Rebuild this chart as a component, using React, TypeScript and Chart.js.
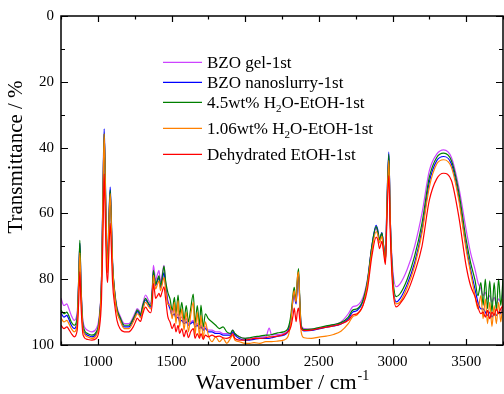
import React, { useEffect, useRef } from "react";
import { Chart, registerables } from "chart.js";

Chart.register(...registerables);

const wavenumbers = [
  750, 770, 790, 800, 820, 840, 860, 870, 878, 886,
  900, 930, 960, 990, 1010, 1025, 1035, 1043, 1050, 1058,
  1066, 1074, 1084, 1092, 1100, 1115, 1130, 1150, 1180, 1210,
  1240, 1260, 1267, 1280, 1290, 1305, 1324, 1340, 1358, 1370,
  1377, 1385, 1392, 1405, 1415, 1425, 1435, 1449, 1460, 1475,
  1490, 1505, 1520, 1530, 1545, 1555, 1570, 1585, 1600, 1615,
  1630, 1648, 1660, 1675, 1690, 1700, 1715, 1730, 1750, 1775,
  1800, 1825, 1850, 1875, 1900, 1915, 1930, 1960, 2000, 2030,
  2060, 2100, 2140, 2163, 2180, 2220, 2260, 2290, 2310, 2325,
  2333, 2340, 2346, 2354, 2362, 2370, 2380, 2400, 2450, 2500,
  2550, 2600, 2650, 2700, 2730, 2760, 2800, 2830, 2860, 2889,
  2900, 2912, 2928, 2940, 2952, 2962, 2975, 2985, 3000, 3025,
  3050, 3100, 3150, 3200, 3250, 3300, 3347, 3400, 3450, 3500,
  3530, 3560, 3580, 3600, 3615, 3630, 3645, 3660, 3675, 3690,
  3705, 3720, 3735, 3750,
];

const bzoGel = [
  85.8, 88, 87.5, 88.5, 91, 92.5, 90, 80, 69.3, 82,
  93, 95.5, 96, 95, 91, 80, 55, 36, 50, 70,
  78, 66, 54, 64, 76, 84, 88.5, 91, 93.5, 93.5,
  91.5, 89.5, 88.9, 89.5, 90.3, 87.5, 84.8, 86, 87.4, 82,
  75.8, 78, 80.3, 78.5, 77.3, 80.8, 79, 75.8, 81, 86.4,
  88, 90, 89, 91.5, 90.5, 92, 91.5, 93, 92, 93.5,
  93, 92.5, 94, 93.5, 94.5, 94, 95, 94.5, 95.5, 95.5,
  96, 96, 96.5, 96.5, 96.5, 95.5, 96.5, 97.5, 98, 98,
  97.8, 97.5, 97.5, 94.9, 97, 96.8, 96.5, 95.5, 92, 86,
  84, 86, 87, 82, 79, 86, 94, 95, 95.2, 94.8,
  94.3, 93.8, 93, 90.5, 88.4, 88, 85.5, 80, 70, 64.5,
  66, 68.2, 66.1, 70, 74.7, 60, 42.5, 62, 76, 82.3,
  81.5, 77, 70, 60, 47, 42, 40.7, 43, 52, 65,
  72, 77, 81, 83, 85, 84, 86, 85, 87, 85.5,
  87.5, 86, 87, 84,
];

const bzoNanoslurry = [
  90.3, 91.5, 91, 91.8, 94, 95, 92.5, 81, 69, 83,
  95, 97, 97.5, 96.5, 92.5, 80, 52, 34.3, 47, 67,
  77, 63, 52, 62, 75, 84.5, 89.5, 92, 94.5, 94.5,
  92.5, 90.5, 89.8, 90.5, 91.3, 88.5, 86.3, 87.3, 88.5, 84,
  77.8, 80, 82, 80.5, 79.5, 82.5, 81, 78, 82, 87,
  89, 91, 90.5, 92, 91.5, 93, 92.5, 93.5, 93, 94,
  93.5, 93, 94.5, 94, 95, 94.5, 95.5, 95, 96, 96,
  96.5, 96.5, 97, 97, 97, 96, 97, 98, 98.5, 98.5,
  98.3, 98, 98, 98, 97.8, 97.3, 97, 96, 92.5, 86,
  84, 86.5, 87.5, 81, 78, 86, 94.5, 95.7, 95.6, 95.1,
  94.6, 94.2, 93.6, 92, 90, 89.5, 86.8, 81, 70, 63.6,
  65, 68, 65.8, 70, 74.5, 57, 41.4, 62, 79, 86.9,
  86, 81.5, 75, 65, 50.5, 44, 42.7, 45, 55, 70,
  77, 83, 87, 89, 89, 90, 91, 90, 91.5, 90.5,
  91, 90, 90.5, 88,
];

const h2oEtoh45 = [
  89.4, 90.5, 90, 90.8, 93, 94, 91.5, 80, 68.2, 82,
  94, 96.5, 97, 96, 92, 80, 54, 35.8, 48, 68,
  77, 64, 53, 63, 75, 84, 89, 91.5, 94, 94,
  92, 90, 89.3, 90, 90.8, 88, 85.8, 87, 88, 83,
  77.3, 79.5, 81.5, 80, 79, 82, 80, 76, 80.5, 84,
  86, 89.5, 85.5, 90.5, 84.8, 91, 87, 92.5, 88, 93,
  89, 84.5, 93.5, 88, 94, 87.9, 94.5, 90.5, 92, 93,
  94, 95, 94.5, 96, 96.5, 95.5, 96.5, 97.5, 98, 97.8,
  97.5, 97.3, 97, 97, 96.8, 96.3, 96, 95, 91, 84.5,
  82.5, 85, 86.4, 80, 76.8, 85, 94, 95.3, 95.2, 94.7,
  94.2, 93.8, 93.2, 91.5, 89.4, 89, 86.3, 80.5, 70, 64,
  65.5, 68, 66, 70, 74.5, 58, 42, 62, 78, 85.3,
  84.5, 80, 73, 63, 49, 43, 41.7, 44, 53.5, 68,
  75, 80.3, 85, 81, 88, 80, 89, 80.5, 90, 81,
  89.5, 80, 88, 80,
];

const h2oEtoh106 = [
  91.8, 93, 92.5, 93.2, 95, 96, 93.5, 82, 72, 84,
  95.5, 97.5, 98, 97, 93, 81, 55, 35.8, 49, 69,
  78, 65, 54, 64, 76, 85, 90, 92.5, 95, 95,
  93, 91, 90.5, 91, 91.8, 89.5, 87, 88, 89, 85,
  78.8, 81, 83, 81.5, 80.5, 83.5, 82, 79.5, 83, 87.5,
  88, 92, 87, 93.5, 86.5, 94.5, 89, 95.5, 90, 96,
  91, 87, 97, 90, 97.5, 91, 98, 93, 97, 99,
  97.5, 99, 98, 99.5, 98, 97, 98.5, 99, 99.5, 99.5,
  99.3, 99.5, 99, 99, 99, 98.8, 98.5, 97.5, 93, 85.5,
  83.5, 86, 87, 80, 77.8, 86, 96, 97.8, 98, 97.6,
  97.3, 96.8, 95.8, 93.5, 91.4, 90.8, 87.8, 81.5, 71.5, 65.5,
  66.5, 69, 67, 71, 75, 59, 43.9, 63, 80, 87.5,
  87, 82.5, 76, 66, 52, 45, 43.7, 46, 56, 71,
  78, 85, 89, 85, 92, 86, 93.5, 87, 94.4, 88,
  93.5, 87, 93, 86,
];

const dehydratedEtoh = [
  94, 95, 94.5, 95, 96.5, 97.5, 95.5, 87, 77.8, 88,
  97, 98.3, 98.5, 98, 95, 86, 66, 48, 60, 76,
  81, 73, 63, 71, 81, 88, 92.5, 95, 96, 96,
  94.5, 92.5, 91.8, 92.5, 92.8, 90.5, 88.5, 89.5, 90.2, 87,
  81.3, 83.5, 85.8, 85, 84.3, 85.4, 84, 82.3, 86, 91.4,
  93, 95, 93.5, 96, 94, 96.5, 95, 97.5, 95.5, 97.8,
  96, 95, 98, 96.5, 98, 96.5, 98.3, 97, 97.5, 97,
  97.5, 97.3, 97.8, 98, 97.5, 96.5, 98, 98.5, 98.5, 98.3,
  98, 98, 97.8, 97.5, 97.5, 97.3, 96.8, 96, 94.5, 91,
  88.8, 91, 92.9, 90, 88.8, 92, 95, 95.6, 95.5, 95,
  94.6, 94.2, 93.6, 92.5, 90.9, 90.5, 88, 83, 73, 67.2,
  68, 70.7, 68.5, 72, 75.5, 62, 48.5, 66, 81.5, 88.4,
  87.5, 84, 78, 70, 56, 49.5, 47.8, 50, 61, 76,
  82, 85.3, 88.5, 90.5, 90, 91.5, 89.5, 92, 90, 91,
  89, 90.5, 89, 88,
];

const xTickValues = [1000, 1500, 2000, 2500, 3000, 3500];
const xMinorValues = [750, 1250, 1750, 2250, 2750, 3250, 3750];
const yTickValues = [0, 20, 40, 60, 80, 100];
const yMinorValues = [10, 30, 50, 70, 90];

// legend: [main text, subscript, rest]
const legendParts: [string, string, string][] = [
  ["BZO gel-1st", "", ""],
  ["BZO nanoslurry-1st", "", ""],
  ["4.5wt% H", "2", "O-EtOH-1st"],
  ["1.06wt% H", "2", "O-EtOH-1st"],
  ["Dehydrated EtOH-1st", "", ""],
];
const seriesColors = ["#cc44ff", "#0000ff", "#007f00", "#ff8000", "#ff0000"];

const FONT = "'Liberation Serif', 'Times New Roman', serif";

const decorPlugin = {
  id: "decor",
  afterDraw(chart: any) {
    const ctx = chart.ctx as CanvasRenderingContext2D;
    const a = chart.chartArea;
    const xs = chart.scales.x;
    const ys = chart.scales.y;
    ctx.save();
    ctx.strokeStyle = "#000";
    ctx.lineWidth = 1.5;
    ctx.strokeRect(a.left, a.top, a.right - a.left, a.bottom - a.top);
    ctx.lineWidth = 1.2;
    ctx.beginPath();
    const xt = (v: number, len: number) => {
      const px = Math.round(xs.getPixelForValue(v)) + 0.5;
      ctx.moveTo(px, a.bottom);
      ctx.lineTo(px, a.bottom - len);
      ctx.moveTo(px, a.top);
      ctx.lineTo(px, a.top + len);
    };
    const yt = (v: number, len: number) => {
      const py = Math.round(ys.getPixelForValue(v)) + 0.5;
      ctx.moveTo(a.left, py);
      ctx.lineTo(a.left + len, py);
      ctx.moveTo(a.right, py);
      ctx.lineTo(a.right - len, py);
    };
    xTickValues.forEach((v) => xt(v, 6));
    xMinorValues.forEach((v) => xt(v, 3.5));
    yTickValues.forEach((v) => yt(v, 7));
    yMinorValues.forEach((v) => yt(v, 4));
    ctx.stroke();

    ctx.fillStyle = "#000";
    // x title
    const main = "Wavenumber / cm";
    ctx.font = `22px ${FONT}`;
    const wMain = ctx.measureText(main).width;
    ctx.font = `14px ${FONT}`;
    const wSup = ctx.measureText("-1").width;
    const cx = (a.left + a.right) / 2;
    const x0 = cx - (wMain + wSup) / 2;
    ctx.textBaseline = "alphabetic";
    ctx.textAlign = "left";
    ctx.font = `22px ${FONT}`;
    ctx.fillText(main, x0, 389);
    ctx.font = `14px ${FONT}`;
    ctx.fillText("-1", x0 + wMain + 1, 380);

    // y title
    ctx.save();
    ctx.translate(22, 157);
    ctx.rotate(-Math.PI / 2);
    ctx.font = `21px ${FONT}`;
    ctx.textAlign = "center";
    ctx.fillText("Transmittance / %", 0, 0);
    ctx.restore();

    // legend
    const lineY = [62.3, 82.3, 102.3, 128.3, 154.3];
    legendParts.forEach((p, i) => {
      const y = lineY[i];
      ctx.strokeStyle = seriesColors[i];
      ctx.lineWidth = 1.3;
      ctx.beginPath();
      ctx.moveTo(163, y);
      ctx.lineTo(202, y);
      ctx.stroke();
      ctx.fillStyle = "#000";
      ctx.textAlign = "left";
      ctx.font = `17px ${FONT}`;
      let x = 207;
      ctx.fillText(p[0], x, y + 6);
      x += ctx.measureText(p[0]).width;
      if (p[1]) {
        ctx.font = `11px ${FONT}`;
        ctx.fillText(p[1], x, y + 10);
        x += ctx.measureText(p[1]).width;
        ctx.font = `17px ${FONT}`;
        ctx.fillText(p[2], x, y + 6);
      }
    });
    ctx.restore();
  },
};

export default function App() {
  const ref = useRef<HTMLCanvasElement>(null);
  useEffect(() => {
    document.body.style.margin = "0";
    const series = [bzoGel, bzoNanoslurry, h2oEtoh45, h2oEtoh106, dehydratedEtoh];
    const labels = legendParts.map((p) => p.join(""));
    const chart = new Chart(ref.current as HTMLCanvasElement, {
      type: "line",
      data: {
        datasets: series.map((s, i) => ({
          label: labels[i],
          data: wavenumbers.map((w, j) => ({ x: w, y: s[j] })),
          borderColor: seriesColors[i],
          borderWidth: 1.2,
          pointRadius: 0,
          cubicInterpolationMode: "monotone",
          fill: false,
          order: 4 - i,
        })),
      },
      options: {
        responsive: false,
        animation: false,
        devicePixelRatio: 1,
        layout: { padding: { top: 15, right: 1, left: 0, bottom: 0 } },
        plugins: { legend: { display: false }, tooltip: { enabled: false } },
        scales: {
          x: {
            type: "linear",
            min: 750,
            max: 3750,
            afterFit: (s: any) => {
              s.height = 49;
            },
            afterBuildTicks: (s: any) => {
              s.ticks = xTickValues.map((v) => ({ value: v }));
            },
            grid: { display: false, drawTicks: false },
            border: { display: false },
            ticks: {
              color: "#000",
              font: { family: FONT, size: 15 },
              padding: 8,
              maxRotation: 0,
              autoSkip: false,
              callback: (v: any) => String(v),
            },
          },
          y: {
            type: "linear",
            min: 0,
            max: 100,
            reverse: true,
            afterFit: (s: any) => {
              s.width = 61;
            },
            afterBuildTicks: (s: any) => {
              s.ticks = yTickValues.map((v) => ({ value: v }));
            },
            grid: { display: false, drawTicks: false },
            border: { display: false },
            ticks: {
              color: "#000",
              font: { family: FONT, size: 15 },
              padding: 7,
              callback: (v: any) => String(v),
            },
          },
        },
      } as any,
      plugins: [decorPlugin],
    });
    return () => chart.destroy();
  }, []);
  return (
    <div style={{ width: 504, height: 394 }}>
      <canvas ref={ref} width={504} height={394} />
    </div>
  );
}
